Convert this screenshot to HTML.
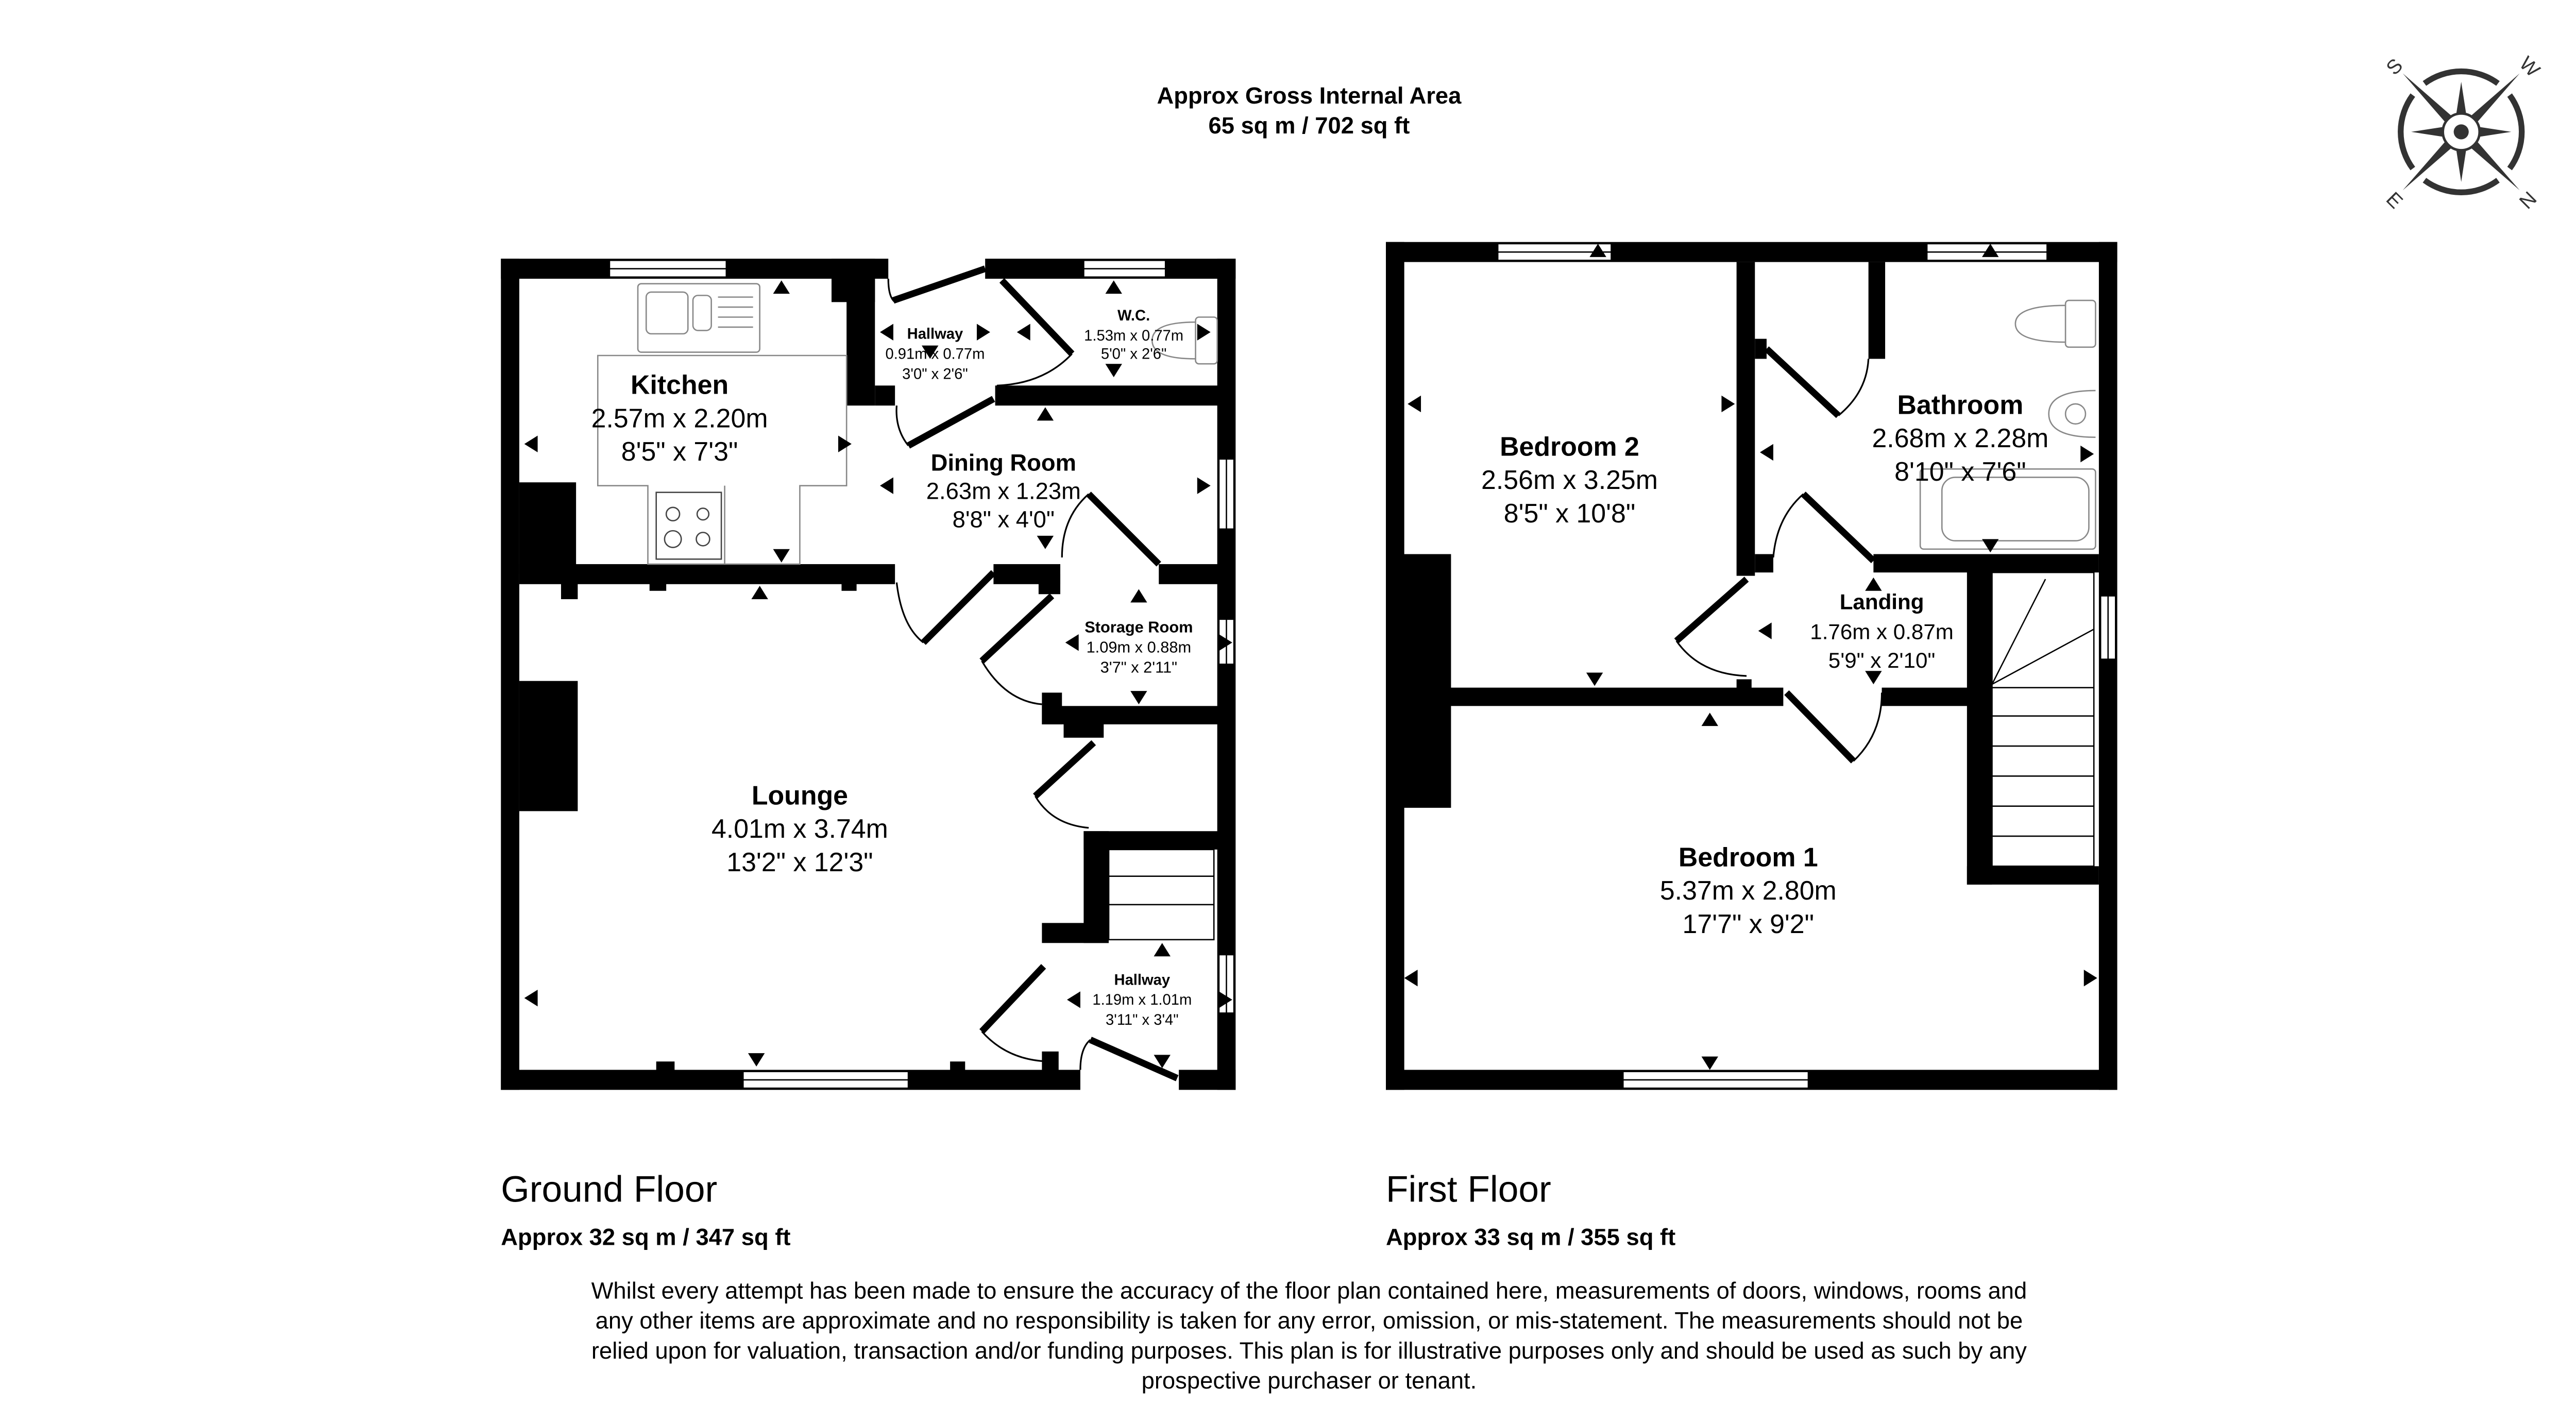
<!DOCTYPE html>
<html><head><meta charset="utf-8"><style>
html,body{margin:0;padding:0;background:#fff;}
svg{display:block;}
text{font-family:"Liberation Sans",Arial,sans-serif;fill:#000;}
</style></head><body>
<svg width="5030" height="2760" viewBox="0 0 1552 852" preserveAspectRatio="none" xmlns="http://www.w3.org/2000/svg">
<rect width="1552" height="852" fill="#fff"/>
<!-- Title -->
<text x="784" y="62" font-size="14" font-weight="bold" text-anchor="middle">Approx Gross Internal Area</text>
<text x="784" y="80" font-size="14" font-weight="bold" text-anchor="middle">65 sq m / 702 sq ft</text>

<!-- Compass -->
<g transform="translate(1474,79)" fill="#333" stroke="none">
 <path d="M-22,-29 A37,37 0 0 1 22,-29" fill="none" stroke="#333" stroke-width="3.5"/>
 <path d="M-22,29 A37,37 0 0 0 22,29" fill="none" stroke="#333" stroke-width="3.5"/>
 <path d="M-29,-22 A37,37 0 0 0 -29,22" fill="none" stroke="#333" stroke-width="3.5"/>
 <path d="M29,-22 A37,37 0 0 1 29,22" fill="none" stroke="#333" stroke-width="3.5"/>
 <polygon points="0,-30 4,-4 30,0 4,4 0,30 -4,4 -30,0 -4,-4"/>
 <polygon points="-35,-35 -4,-8 -8,-4"/><polygon points="35,-35 8,-4 4,-8"/>
 <polygon points="-35,35 -8,4 -4,8"/><polygon points="35,35 4,8 8,4"/>
 <circle r="11" fill="#fff" stroke="#333" stroke-width="1.5"/>
 <circle r="4.5"/>
 <text x="-40" y="-35" font-size="12" fill="#333" transform="rotate(-45 -40 -39)" text-anchor="middle" style="fill:#333">S</text>
 <text x="41" y="-35" font-size="12" transform="rotate(45 41 -39)" text-anchor="middle" style="fill:#333">W</text>
 <text x="-40" y="45" font-size="12" transform="rotate(45 -40 41)" text-anchor="middle" style="fill:#333">E</text>
 <text x="40" y="45" font-size="12" transform="rotate(-45 40 41)" text-anchor="middle" style="fill:#333">N</text>
</g>

<!-- ===== GROUND FLOOR ===== -->
<g fill="#000">
 <rect x="300" y="155" width="11" height="498"/>
 <rect x="729" y="155" width="11" height="498"/>
 <rect x="300" y="155" width="232" height="12"/>
 <rect x="590" y="155" width="150" height="12"/>
 <rect x="498" y="155" width="26" height="26"/>
 <rect x="507" y="167" width="17" height="76"/>
 <rect x="596" y="231" width="134" height="12"/>
 <rect x="524" y="231" width="12" height="12"/>
 <rect x="311" y="338" width="225" height="12"/>
 <rect x="336" y="346" width="10" height="13"/>
 <rect x="389" y="346" width="10" height="8"/>
 <rect x="504" y="346" width="9" height="8"/>
 <rect x="311" y="289" width="34" height="55"/>
 <rect x="595" y="338" width="40" height="12"/>
 <rect x="622" y="344" width="13" height="12"/>
 <rect x="694" y="338" width="40" height="12"/>
 <rect x="624" y="423" width="110" height="11"/>
 <rect x="624" y="415" width="12" height="19"/>
 <rect x="637" y="430" width="24" height="12"/>
 <rect x="649" y="498" width="85" height="11"/>
 <rect x="649" y="498" width="15" height="67"/>
 <rect x="624" y="553" width="40" height="12"/>
 <rect x="300" y="641" width="347" height="12"/>
 <rect x="706" y="641" width="34" height="12"/>
 <rect x="311" y="408" width="35" height="78"/>
 <rect x="393" y="636" width="11" height="8"/>
 <rect x="569" y="636" width="9" height="8"/>
 <rect x="624" y="630" width="10" height="14"/>
</g>
<!-- windows GF -->
<g fill="#fff" stroke="#000" stroke-width="0.8">
 <rect x="365" y="156" width="70" height="10"/><line x1="365" y1="161" x2="435" y2="161"/>
 <rect x="649" y="156" width="49" height="10"/><line x1="649" y1="161" x2="698" y2="161"/>
 <rect x="445" y="642" width="99" height="10"/><line x1="445" y1="647" x2="544" y2="647"/>
 <rect x="730" y="275" width="9" height="42"/><line x1="734.5" y1="275" x2="734.5" y2="317"/>
 <rect x="730" y="371" width="9" height="27"/><line x1="734.5" y1="371" x2="734.5" y2="398"/>
 <rect x="730" y="572" width="9" height="35"/><line x1="734.5" y1="572" x2="734.5" y2="607"/>
</g>
<!-- doors GF -->
<g stroke="#000" fill="none">
 <line x1="535" y1="180" x2="590" y2="161" stroke-width="4"/>
 <path d="M532,167 Q532,178 536,181" stroke-width="1"/>
 <line x1="600" y1="168" x2="642" y2="212" stroke-width="4"/>
 <path d="M642,212 Q625,230 597,231" stroke-width="1"/>
 <line x1="544" y1="267" x2="595" y2="239" stroke-width="4"/>
 <path d="M537,243 Q536,257 544,267" stroke-width="1"/>
 <line x1="595" y1="343" x2="553" y2="385" stroke-width="4"/>
 <path d="M537,349 Q540,375 553,385" stroke-width="1"/>
 <line x1="652" y1="296" x2="694" y2="338" stroke-width="4"/>
 <path d="M652,296 Q636,310 636,334" stroke-width="1"/>
 <line x1="630" y1="357" x2="588" y2="396" stroke-width="4"/>
 <path d="M588,396 Q602,420 624,422" stroke-width="1"/>
 <line x1="655" y1="445" x2="620" y2="477" stroke-width="4"/>
 <path d="M620,477 Q630,494 652,496" stroke-width="1"/>
 <line x1="625" y1="579" x2="588" y2="618" stroke-width="4"/>
 <path d="M588,618 Q604,636 630,636" stroke-width="1"/>
 <line x1="653" y1="623" x2="705" y2="646" stroke-width="4"/>
 <path d="M647,641 Q647,628 653,623" stroke-width="1"/>
</g>
<!-- stairs GF -->
<g stroke="#000" stroke-width="0.8" fill="#fff">
 <rect x="664" y="509" width="63" height="54"/>
 <line x1="664" y1="525" x2="727" y2="525"/><line x1="664" y1="542" x2="727" y2="542"/>
</g>
<!-- kitchen fittings -->
<g stroke="#888" stroke-width="0.8" fill="none">
 <path d="M358,213 L507,213 L507,291 L479,291 L479,338 L388,338 L388,291 L358,291 Z"/>
 <line x1="434" y1="291" x2="434" y2="338"/>
 <rect x="382" y="170" width="73" height="41" rx="2"/>
 <rect x="387" y="175" width="25" height="25" rx="3"/>
 <rect x="415" y="177" width="11" height="21" rx="3"/>
 <line x1="430" y1="178" x2="451" y2="178"/><line x1="430" y1="184" x2="451" y2="184"/><line x1="430" y1="190" x2="451" y2="190"/><line x1="430" y1="196" x2="451" y2="196"/>
 <rect x="393" y="295" width="39" height="40" stroke="#444"/>
 <circle cx="403" cy="308" r="4" stroke="#444"/><circle cx="421" cy="308" r="3.5" stroke="#444"/>
 <circle cx="403" cy="323" r="5" stroke="#444"/><circle cx="421" cy="323" r="4" stroke="#444"/>
</g>
<!-- WC toilet -->
<g stroke="#888" stroke-width="0.8" fill="none">
 <rect x="716" y="190" width="13" height="28" rx="2"/>
 <path d="M716,193 Q690,193 690,204 Q690,215 716,215"/>
</g>
<!-- arrows GF -->
<g fill="#000">
 <polygon points="463,176 468,168 473,176"/><polygon points="463,329 468,337 473,329"/>
 <polygon points="322,261 314,266 322,271"/><polygon points="502,261 510,266 502,271"/>
 <polygon points="535,194 527,199 535,204"/><polygon points="585,194 593,199 585,204"/>
 <polygon points="552,207 557,215 562,207"/><polygon points="578,199 570,204"/>
 <polygon points="662,176 667,168 672,176"/><polygon points="662,218 667,226 672,218"/>
 <polygon points="617,194 609,199 617,204"/><polygon points="717,194 725,199 717,204"/>
 <polygon points="621,252 626,244 631,252"/><polygon points="621,321 626,329 631,321"/>
 <polygon points="535,286 527,291 535,296"/><polygon points="717,286 725,291 717,296"/>
 <polygon points="677,361 682,353 687,361"/><polygon points="677,414 682,422 687,414"/>
 <polygon points="646,380 638,385 646,390"/><polygon points="730,380 738,385 730,390"/>
 <polygon points="450,359 455,351 460,359"/><polygon points="448,631 453,639 458,631"/>
 <polygon points="322,593 314,598 322,603"/>
 <polygon points="691,573 696,565 701,573"/><polygon points="691,632 696,640 701,632"/>
 <polygon points="647,594 639,599 647,604"/><polygon points="730,594 738,599 730,604"/>
</g>
<!-- GF labels -->
<text x="407" y="236" font-size="16" font-weight="bold" text-anchor="middle">Kitchen</text>
<text x="407" y="256" font-size="16" text-anchor="middle">2.57m x 2.20m</text>
<text x="407" y="276" font-size="16" text-anchor="middle">8'5" x 7'3"</text>
<text x="560" y="203" font-size="9" font-weight="bold" text-anchor="middle">Hallway</text>
<text x="560" y="215" font-size="9" text-anchor="middle">0.91m x 0.77m</text>
<text x="560" y="227" font-size="9" text-anchor="middle">3'0" x 2'6"</text>
<text x="679" y="192" font-size="9" font-weight="bold" text-anchor="middle">W.C.</text>
<text x="679" y="204" font-size="9" text-anchor="middle">1.53m x 0.77m</text>
<text x="679" y="215" font-size="9" text-anchor="middle">5'0" x 2'6"</text>
<text x="601" y="282" font-size="14" font-weight="bold" text-anchor="middle">Dining Room</text>
<text x="601" y="299" font-size="14" text-anchor="middle">2.63m x 1.23m</text>
<text x="601" y="316" font-size="14" text-anchor="middle">8'8" x 4'0"</text>
<text x="682" y="379" font-size="9.5" font-weight="bold" text-anchor="middle">Storage Room</text>
<text x="682" y="391" font-size="9.5" text-anchor="middle">1.09m x 0.88m</text>
<text x="682" y="403" font-size="9.5" text-anchor="middle">3'7" x 2'11"</text>
<text x="479" y="482" font-size="16" font-weight="bold" text-anchor="middle">Lounge</text>
<text x="479" y="502" font-size="16" text-anchor="middle">4.01m x 3.74m</text>
<text x="479" y="522" font-size="16" text-anchor="middle">13'2" x 12'3"</text>
<text x="684" y="590" font-size="9" font-weight="bold" text-anchor="middle">Hallway</text>
<text x="684" y="602" font-size="9" text-anchor="middle">1.19m x 1.01m</text>
<text x="684" y="614" font-size="9" text-anchor="middle">3'11" x 3'4"</text>

<!-- ===== FIRST FLOOR ===== -->
<g fill="#000">
 <rect x="830" y="145" width="11" height="508"/>
 <rect x="1257" y="145" width="11" height="508"/>
 <rect x="830" y="145" width="438" height="12"/>
 <rect x="830" y="641" width="438" height="12"/>
 <rect x="839" y="332" width="30" height="152"/>
 <rect x="1040" y="157" width="11" height="188"/>
 <rect x="1119" y="157" width="10" height="58"/>
 <rect x="1051" y="203" width="7" height="12"/>
 <rect x="1122" y="332" width="135" height="11"/>
 <rect x="1051" y="332" width="11" height="11"/>
 <rect x="868" y="412" width="200" height="11"/>
 <rect x="1040" y="407" width="9" height="6"/>
 <rect x="1127" y="412" width="53" height="11"/>
 <rect x="1178" y="342" width="15" height="188"/>
 <rect x="1178" y="519" width="79" height="11"/>
</g>
<g fill="#fff" stroke="#000" stroke-width="0.8">
 <rect x="897" y="146" width="68" height="10"/><line x1="897" y1="151" x2="965" y2="151"/>
 <rect x="1154" y="146" width="72" height="10"/><line x1="1154" y1="151" x2="1226" y2="151"/>
 <rect x="972" y="642" width="111" height="10"/><line x1="972" y1="647" x2="1083" y2="647"/>
 <rect x="1258" y="357" width="9" height="38"/><line x1="1262.5" y1="357" x2="1262.5" y2="395"/>
 <rect x="1193" y="343" width="61" height="176"/>
 <line x1="1193" y1="412" x2="1254" y2="412"/>
 <line x1="1193" y1="429" x2="1254" y2="429"/>
 <line x1="1193" y1="447" x2="1254" y2="447"/>
 <line x1="1193" y1="465" x2="1254" y2="465"/>
 <line x1="1193" y1="483" x2="1254" y2="483"/>
 <line x1="1193" y1="501" x2="1254" y2="501"/>
 <line x1="1193" y1="410" x2="1225" y2="347"/>
 <line x1="1193" y1="410" x2="1254" y2="377"/>
</g>
<g stroke="#000" fill="none">
 <line x1="1004" y1="384" x2="1046" y2="347" stroke-width="4"/>
 <path d="M1004,384 Q1018,404 1046,405" stroke-width="1"/>
 <line x1="1080" y1="296" x2="1122" y2="336" stroke-width="4"/>
 <path d="M1080,296 Q1064,310 1062,334" stroke-width="1"/>
 <line x1="1070" y1="415" x2="1110" y2="456" stroke-width="4"/>
 <path d="M1110,456 Q1127,440 1127,415" stroke-width="1"/>
 <line x1="1058" y1="209" x2="1101" y2="249" stroke-width="4"/>
 <path d="M1101,249 Q1118,235 1119,215" stroke-width="1"/>
</g>
<!-- bathroom fixtures -->
<g stroke="#888" stroke-width="0.8" fill="none">
 <rect x="1237" y="180" width="18" height="28" rx="2"/>
 <path d="M1237,183 Q1207,183 1207,194 Q1207,205 1237,205"/>
 <path d="M1255,234 Q1227,234 1227,248 Q1227,262 1255,262"/>
 <circle cx="1243" cy="248" r="6"/>
 <rect x="1150" y="281" width="105" height="48" rx="2"/>
 <rect x="1163" y="286" width="88" height="38" rx="8"/>
</g>
<g fill="#000">
 <polygon points="952,154 957,146 962,154"/><polygon points="950,403 955,411 960,403"/>
 <polygon points="851,237 843,242 851,247"/><polygon points="1031,237 1039,242 1031,247"/>
 <polygon points="1187,154 1192,146 1197,154"/><polygon points="1187,323 1192,331 1197,323"/>
 <polygon points="1062,266 1054,271 1062,276"/><polygon points="1246,267 1254,272 1246,277"/>
 <polygon points="1117,354 1122,346 1127,354"/><polygon points="1117,402 1122,410 1127,402"/>
 <polygon points="1061,373 1053,378 1061,383"/><polygon points="1181,373 1189,378 1181,383"/>
 <polygon points="1019,435 1024,427 1029,435"/><polygon points="1019,633 1024,641 1029,633"/>
 <polygon points="849,581 841,586 849,591"/><polygon points="1248,581 1256,586 1248,591"/>
</g>
<text x="940" y="273" font-size="16" font-weight="bold" text-anchor="middle">Bedroom 2</text>
<text x="940" y="293" font-size="16" text-anchor="middle">2.56m x 3.25m</text>
<text x="940" y="313" font-size="16" text-anchor="middle">8'5" x 10'8"</text>
<text x="1174" y="248" font-size="16" font-weight="bold" text-anchor="middle">Bathroom</text>
<text x="1174" y="268" font-size="16" text-anchor="middle">2.68m x 2.28m</text>
<text x="1174" y="288" font-size="16" text-anchor="middle">8'10" x 7'6"</text>
<text x="1127" y="365" font-size="13" font-weight="bold" text-anchor="middle">Landing</text>
<text x="1127" y="383" font-size="13" text-anchor="middle">1.76m x 0.87m</text>
<text x="1127" y="400" font-size="13" text-anchor="middle">5'9" x 2'10"</text>
<text x="1047" y="519" font-size="16" font-weight="bold" text-anchor="middle">Bedroom 1</text>
<text x="1047" y="539" font-size="16" text-anchor="middle">5.37m x 2.80m</text>
<text x="1047" y="559" font-size="16" text-anchor="middle">17'7" x 9'2"</text>

<!-- footer -->
<text x="300" y="720" font-size="22">Ground Floor</text>
<text x="300" y="746" font-size="14" font-weight="bold">Approx 32 sq m / 347 sq ft</text>
<text x="830" y="720" font-size="22">First Floor</text>
<text x="830" y="746" font-size="14" font-weight="bold">Approx 33 sq m / 355 sq ft</text>
<g font-size="14" text-anchor="middle">
<text x="784" y="778">Whilst every attempt has been made to ensure the accuracy of the floor plan contained here, measurements of doors, windows, rooms and</text>
<text x="784" y="796">any other items are approximate and no responsibility is taken for any error, omission, or mis-statement. The measurements should not be</text>
<text x="784" y="814">relied upon for valuation, transaction and/or funding purposes. This plan is for illustrative purposes only and should be used as such by any</text>
<text x="784" y="832">prospective purchaser or tenant.</text>
</g>
</svg>
</body></html>
